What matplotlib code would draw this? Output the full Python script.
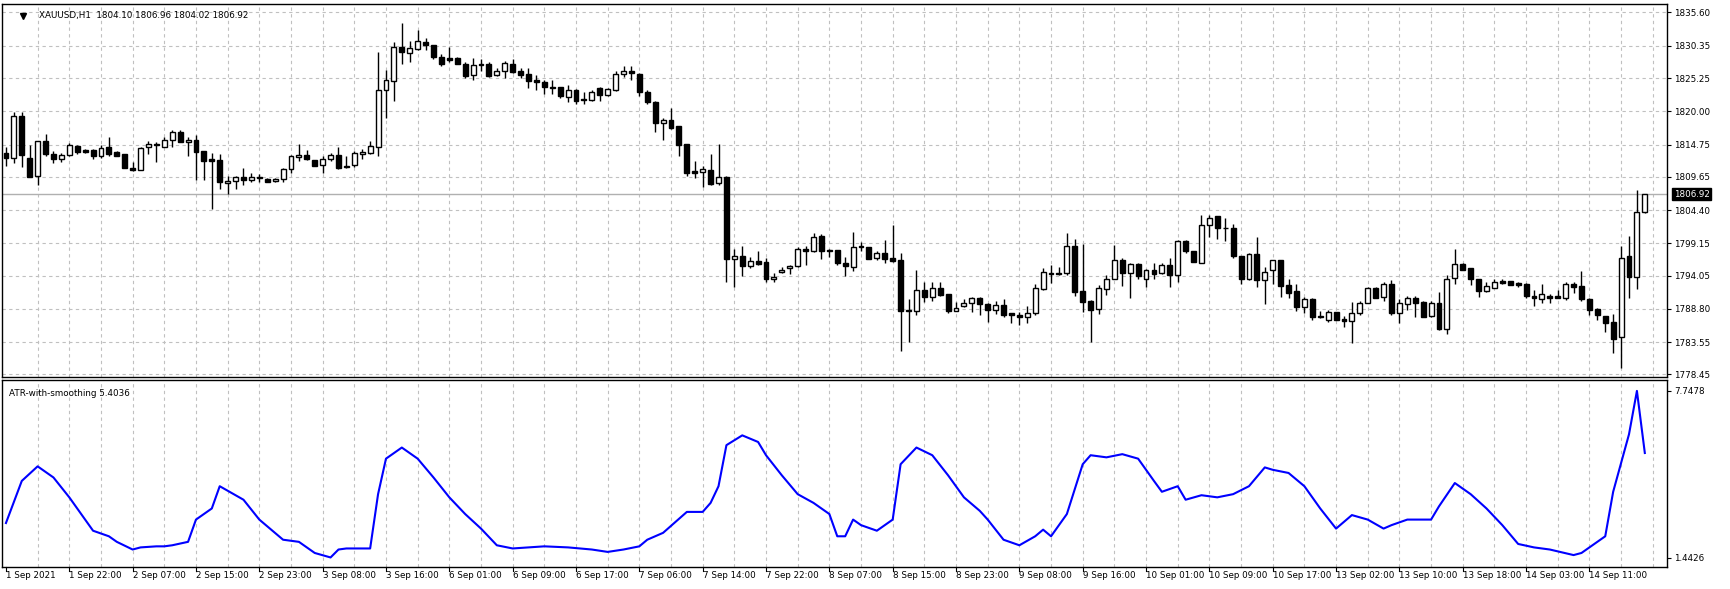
import matplotlib
matplotlib.use("Agg")
import matplotlib.pyplot as plt
import numpy as np

# XAUUSD H1 candles, 1 Sep 2021 .. 14 Sep 2021
OHLC = [
    (1813.4, 1814.4, 1811.3, 1812.7), (1812.7, 1819.9, 1811.8, 1819.3), (1819.3, 1819.9, 1811.2, 1813.1),
    (1812.7, 1814.7, 1809.6, 1809.7), (1809.8, 1815.3, 1808.4, 1815.3), (1815.3, 1816.4, 1812.9, 1813.2),
    (1813.3, 1813.8, 1811.8, 1812.5), (1812.4, 1813.4, 1812.0, 1813.1), (1813.1, 1815.0, 1813.0, 1814.7),
    (1814.5, 1814.7, 1813.3, 1813.6), (1813.9, 1814.1, 1813.4, 1813.6), (1813.9, 1814.1, 1812.5, 1812.9),
    (1812.9, 1814.7, 1812.7, 1814.2), (1814.3, 1816.0, 1812.9, 1813.3), (1813.6, 1813.8, 1812.9, 1813.0),
    (1813.2, 1813.3, 1811.0, 1811.0), (1811.1, 1812.0, 1810.5, 1810.8), (1810.8, 1814.4, 1810.7, 1814.2),
    (1814.3, 1815.3, 1813.3, 1814.9), (1814.9, 1815.1, 1812.0, 1814.7), (1814.4, 1816.0, 1814.3, 1815.5),
    (1815.5, 1817.1, 1814.4, 1816.8), (1816.8, 1817.1, 1815.1, 1815.1), (1815.2, 1816.0, 1812.9, 1815.5),
    (1815.5, 1816.3, 1809.2, 1813.6), (1813.7, 1813.7, 1809.1, 1812.2), (1812.4, 1813.4, 1804.6, 1812.2),
    (1812.3, 1813.3, 1807.8, 1808.8), (1808.7, 1809.8, 1806.9, 1809.0), (1809.0, 1809.8, 1807.8, 1809.6),
    (1809.6, 1811.0, 1808.3, 1809.1), (1809.1, 1810.3, 1808.9, 1809.6), (1809.6, 1810.1, 1808.9, 1809.4),
    (1809.3, 1809.5, 1808.8, 1808.9), (1809.0, 1809.4, 1808.9, 1809.3), (1809.3, 1811.0, 1808.8, 1810.9),
    (1810.9, 1813.1, 1810.3, 1812.9), (1812.8, 1814.8, 1812.2, 1813.1), (1813.1, 1813.9, 1812.3, 1812.4),
    (1812.3, 1812.3, 1811.3, 1811.4), (1811.5, 1812.9, 1810.2, 1812.5), (1812.4, 1813.4, 1812.2, 1813.1),
    (1813.1, 1814.4, 1810.9, 1811.1), (1811.4, 1813.0, 1811.0, 1811.2), (1811.5, 1813.7, 1811.2, 1813.4),
    (1813.3, 1814.0, 1812.5, 1813.5), (1813.4, 1815.3, 1813.3, 1814.5), (1814.4, 1829.4, 1812.9, 1823.4),
    (1823.4, 1826.5, 1819.0, 1824.9), (1824.8, 1831.0, 1821.7, 1830.1), (1830.1, 1834.0, 1827.4, 1829.3),
    (1829.2, 1831.1, 1827.8, 1830.0), (1829.9, 1832.8, 1829.6, 1831.1), (1831.0, 1831.5, 1829.7, 1830.4),
    (1830.5, 1830.5, 1828.2, 1828.5), (1828.5, 1829.0, 1827.1, 1827.4), (1828.4, 1830.2, 1827.8, 1828.1),
    (1828.4, 1828.5, 1827.4, 1827.4), (1827.5, 1827.8, 1825.3, 1825.6), (1825.7, 1828.4, 1825.0, 1827.3),
    (1827.5, 1828.2, 1826.4, 1827.3), (1827.5, 1827.8, 1825.4, 1825.6), (1825.7, 1826.9, 1825.6, 1826.3),
    (1826.3, 1827.9, 1825.3, 1827.6), (1827.5, 1828.2, 1826.1, 1826.2), (1826.4, 1826.9, 1825.3, 1825.8),
    (1825.9, 1826.9, 1823.7, 1824.8), (1824.9, 1825.8, 1823.4, 1824.7), (1824.7, 1824.9, 1822.7, 1823.8),
    (1823.8, 1824.9, 1822.8, 1823.7), (1823.8, 1823.8, 1822.1, 1822.4), (1822.3, 1824.1, 1821.5, 1823.4),
    (1823.4, 1823.5, 1821.2, 1821.7), (1822.0, 1823.1, 1821.2, 1821.8), (1821.8, 1823.4, 1821.6, 1823.1),
    (1823.6, 1823.8, 1821.7, 1822.5), (1822.5, 1823.6, 1822.4, 1823.5), (1823.3, 1826.3, 1823.2, 1825.9),
    (1825.9, 1827.2, 1825.4, 1826.3), (1826.3, 1827.1, 1824.9, 1826.0), (1825.9, 1826.0, 1822.4, 1823.0),
    (1823.1, 1823.4, 1821.1, 1821.4), (1821.5, 1821.7, 1816.8, 1818.2), (1818.2, 1818.9, 1815.5, 1818.6),
    (1818.6, 1820.5, 1817.2, 1817.4), (1817.6, 1817.6, 1813.0, 1814.7), (1814.8, 1814.8, 1809.8, 1810.3),
    (1810.5, 1812.1, 1809.4, 1810.3), (1810.4, 1811.3, 1808.1, 1810.9), (1810.8, 1813.3, 1808.3, 1808.5),
    (1808.7, 1814.9, 1808.3, 1809.6), (1809.7, 1809.8, 1793.0, 1796.7), (1796.7, 1798.2, 1792.2, 1797.2),
    (1797.2, 1798.8, 1794.0, 1795.6), (1795.6, 1797.0, 1795.2, 1796.3), (1796.3, 1797.9, 1795.8, 1795.9),
    (1796.2, 1796.8, 1793.0, 1793.5), (1793.5, 1794.4, 1793.1, 1793.9), (1794.7, 1795.4, 1794.5, 1795.0),
    (1795.2, 1795.8, 1794.3, 1795.5), (1795.6, 1798.5, 1795.4, 1798.2), (1798.2, 1798.7, 1795.8, 1798.0),
    (1798.0, 1800.8, 1797.8, 1800.2), (1800.3, 1800.6, 1796.7, 1797.9), (1798.1, 1798.3, 1797.0, 1797.9),
    (1798.1, 1798.1, 1795.8, 1796.0), (1796.0, 1797.0, 1794.0, 1795.5), (1795.4, 1801.0, 1794.8, 1798.6),
    (1798.7, 1799.4, 1798.0, 1798.5), (1798.5, 1798.6, 1796.7, 1796.7), (1796.8, 1798.0, 1796.5, 1797.6),
    (1797.6, 1799.7, 1796.1, 1796.7), (1796.8, 1802.1, 1796.2, 1796.4), (1796.5, 1797.6, 1782.2, 1788.5),
    (1788.6, 1790.4, 1783.6, 1788.5), (1788.4, 1794.9, 1787.8, 1791.8), (1791.8, 1793.0, 1789.9, 1790.7),
    (1790.7, 1793.0, 1790.0, 1792.1), (1792.1, 1793.1, 1790.9, 1791.0), (1791.2, 1791.2, 1788.2, 1788.5),
    (1788.4, 1789.9, 1788.4, 1789.0), (1789.3, 1790.4, 1789.1, 1789.7), (1789.7, 1790.7, 1788.3, 1790.6),
    (1790.5, 1790.7, 1787.9, 1789.5), (1789.6, 1789.8, 1786.7, 1788.7), (1788.7, 1790.0, 1788.0, 1789.4),
    (1789.4, 1790.4, 1787.6, 1787.9), (1788.1, 1788.2, 1786.6, 1787.8), (1787.8, 1788.3, 1786.3, 1787.5),
    (1787.5, 1789.2, 1786.6, 1788.1), (1788.1, 1792.7, 1787.9, 1792.1), (1792.0, 1795.2, 1791.8, 1794.6),
    (1794.4, 1795.7, 1792.9, 1794.3), (1794.4, 1795.4, 1794.2, 1794.3), (1794.4, 1800.8, 1794.2, 1798.7),
    (1798.7, 1799.9, 1790.8, 1791.5), (1791.6, 1799.1, 1788.3, 1789.9), (1790.1, 1790.2, 1783.6, 1788.7),
    (1788.8, 1792.5, 1788.0, 1792.1), (1792.0, 1794.1, 1791.0, 1793.5), (1793.5, 1798.9, 1793.5, 1796.6),
    (1796.6, 1796.8, 1792.4, 1794.5), (1794.5, 1796.1, 1790.5, 1795.9), (1795.9, 1796.1, 1793.6, 1794.0),
    (1793.6, 1795.1, 1792.2, 1794.9), (1795.0, 1796.1, 1793.6, 1794.3), (1794.4, 1796.0, 1794.3, 1795.7),
    (1795.7, 1796.8, 1792.3, 1794.2), (1794.2, 1799.7, 1793.0, 1799.5), (1799.5, 1799.7, 1797.6, 1797.9),
    (1797.9, 1797.9, 1796.2, 1796.2), (1796.1, 1803.7, 1796.0, 1802.1), (1802.0, 1803.7, 1800.1, 1803.1),
    (1803.4, 1803.5, 1799.9, 1801.5), (1801.6, 1803.1, 1799.6, 1801.5), (1801.6, 1802.2, 1796.9, 1797.1),
    (1797.2, 1797.2, 1792.8, 1793.6), (1793.5, 1797.6, 1793.3, 1797.5), (1797.5, 1800.2, 1792.3, 1793.3),
    (1793.3, 1795.4, 1789.5, 1794.6), (1794.9, 1796.6, 1792.8, 1796.5), (1796.5, 1796.5, 1790.7, 1792.4),
    (1792.5, 1793.6, 1790.6, 1791.3), (1791.6, 1792.8, 1788.5, 1789.1), (1789.1, 1790.7, 1788.1, 1790.4),
    (1790.4, 1790.5, 1787.0, 1787.6), (1787.7, 1788.4, 1787.4, 1787.6), (1787.1, 1788.6, 1786.8, 1788.3),
    (1788.3, 1788.3, 1787.0, 1787.0), (1787.2, 1787.7, 1785.9, 1786.9), (1786.9, 1789.9, 1783.4, 1788.1),
    (1788.1, 1790.1, 1787.8, 1789.7), (1789.8, 1792.2, 1789.7, 1792.1), (1792.1, 1792.2, 1790.5, 1790.6),
    (1790.7, 1793.1, 1790.0, 1792.7), (1792.7, 1793.4, 1787.9, 1788.1), (1788.2, 1790.4, 1786.6, 1789.7),
    (1789.6, 1790.9, 1788.7, 1790.6), (1790.6, 1790.8, 1787.6, 1789.8), (1789.9, 1790.1, 1787.5, 1787.6),
    (1787.7, 1790.1, 1787.6, 1789.7), (1789.7, 1791.5, 1785.4, 1785.7), (1785.7, 1794.1, 1784.8, 1793.6),
    (1793.7, 1798.3, 1792.7, 1795.9), (1795.9, 1796.1, 1794.9, 1794.9), (1795.2, 1795.3, 1792.6, 1793.6),
    (1793.6, 1793.6, 1790.7, 1791.7), (1791.7, 1793.0, 1791.4, 1792.4), (1792.1, 1793.5, 1792.1, 1793.0),
    (1793.2, 1793.5, 1792.7, 1792.9), (1793.2, 1793.2, 1792.5, 1792.6), (1792.9, 1793.1, 1792.3, 1792.6),
    (1792.8, 1792.9, 1790.5, 1790.8), (1790.9, 1791.8, 1789.2, 1790.5), (1790.4, 1792.7, 1789.8, 1791.2),
    (1790.9, 1791.2, 1789.8, 1790.6), (1790.8, 1791.8, 1790.5, 1790.6), (1790.6, 1793.1, 1790.2, 1792.8),
    (1792.8, 1793.1, 1791.3, 1792.2), (1792.4, 1794.8, 1790.0, 1790.3), (1790.4, 1790.5, 1787.9, 1788.6),
    (1788.8, 1788.9, 1787.0, 1787.8), (1787.7, 1787.7, 1785.1, 1786.5), (1786.7, 1788.0, 1781.9, 1784.1),
    (1784.3, 1798.8, 1779.4, 1796.9), (1797.1, 1800.3, 1790.6, 1793.9), (1793.9, 1807.6, 1791.9, 1804.1),
    (1804.10, 1806.96, 1804.02, 1806.92),
]

# ATR-with-smoothing readings (bar index, value)
ATR_IDX = [0, 2, 4, 6, 8, 10, 11, 13, 14, 16, 17, 19, 20, 21, 23, 24, 26, 27, 28, 30, 32, 35, 37, 39,
           41, 42, 43, 46, 47, 48, 50, 52, 54, 56, 58, 60, 62, 64, 66, 68, 71, 74, 76, 78, 80, 81, 83,
           86, 88, 89, 90, 91, 93, 95, 96, 98, 100, 102, 104, 105, 106, 107, 108, 110, 112, 113, 115,
           117, 119, 121, 123, 124, 126, 128, 130, 131, 132, 134, 136, 137, 139, 141, 143, 145, 146,
           148, 149, 151, 153, 155, 157, 159, 160, 162, 164, 166, 168, 170, 172, 174, 175, 177, 180,
           181, 183, 185, 187, 189, 191, 193, 195, 198, 199, 201, 202, 203, 205, 206, 207]
ATR_VAL = [2.76, 4.35, 4.90, 4.48, 3.73, 2.89, 2.47, 2.26, 2.05, 1.76, 1.84, 1.88, 1.88, 1.92, 2.05,
           2.89, 3.31, 4.15, 3.98, 3.64, 2.89, 2.13, 2.05, 1.63, 1.46, 1.76, 1.80, 1.80, 3.85, 5.19,
           5.61, 5.19, 4.48, 3.73, 3.10, 2.55, 1.92, 1.80, 1.84, 1.88, 1.84, 1.76, 1.67, 1.76, 1.88,
           2.13, 2.39, 3.18, 3.18, 3.52, 4.15, 5.70, 6.07, 5.82, 5.32, 4.56, 3.85, 3.52, 3.10, 2.26,
           2.26, 2.89, 2.68, 2.47, 2.89, 4.98, 5.61, 5.32, 4.56, 3.73, 3.22, 2.89, 2.13, 1.92, 2.26,
           2.51, 2.26, 3.10, 4.98, 5.32, 5.24, 5.36, 5.19, 4.35, 3.94, 4.15, 3.64, 3.81, 3.73, 3.85,
           4.15, 4.86, 4.77, 4.65, 4.15, 3.31, 2.55, 3.06, 2.89, 2.55, 2.68, 2.89, 2.89, 3.39, 4.27,
           3.85, 3.31, 2.68, 1.97, 1.84, 1.76, 1.55, 1.63, 2.05, 2.26, 3.94, 6.11, 7.7478, 5.4036]

DATE_LABELS = ["1 Sep 2021", "1 Sep 22:00", "2 Sep 07:00", "2 Sep 15:00", "2 Sep 23:00", "3 Sep 08:00",
               "3 Sep 16:00", "6 Sep 01:00", "6 Sep 09:00", "6 Sep 17:00", "7 Sep 06:00", "7 Sep 14:00",
               "7 Sep 22:00", "8 Sep 07:00", "8 Sep 15:00", "8 Sep 23:00", "9 Sep 08:00", "9 Sep 16:00",
               "10 Sep 01:00", "10 Sep 09:00", "10 Sep 17:00", "13 Sep 02:00", "13 Sep 10:00",
               "13 Sep 18:00", "14 Sep 03:00", "14 Sep 11:00"]
PRICE_TICKS = [1835.60, 1830.35, 1825.25, 1820.00, 1814.75, 1809.65, 1804.40, 1799.15, 1794.05,
               1788.80, 1783.55, 1778.45]
LAST_PRICE = 1806.92

W, H = 1731, 589
FS = 6.3
fig = plt.figure(figsize=(W / 100, H / 100), dpi=100, facecolor="white")
plt.rcParams["font.family"] = ["DejaVu Sans"]


def px_axes(x0, y0, x1, y1):
    return fig.add_axes([x0 / W, 1 - y1 / H, (x1 - x0) / W, (y1 - y0) / H])


ax = px_axes(2, 4, 1667, 377)
ax2 = px_axes(2, 380, 1667, 567)

o, h, l, c = (np.array(v) for v in zip(*OHLC))
x = np.arange(len(OHLC))
XL = (-0.5, 209.8)

grid_kw = dict(color="#c0c0c0", linestyle=(0, (3, 3)), linewidth=0.8)
for a in (ax, ax2):
    a.set_xlim(*XL)
    for gx in range(4, len(OHLC) + 2, 4):
        a.axvline(gx, zorder=0, **grid_kw)
    a.set_xticks([])
    for s in a.spines.values():
        s.set_color("black")
        s.set_linewidth(1.0)
    a.yaxis.tick_right()
    a.tick_params(axis="y", length=3, labelsize=FS, pad=2, colors="black")

# price pane
ax.set_ylim(1778.05, 1836.94)
ax.set_yticks(PRICE_TICKS)
ax.set_yticklabels([f"{v:.2f}" for v in PRICE_TICKS])
for v in PRICE_TICKS:
    ax.axhline(v, zorder=0, **grid_kw)
ax.axhline(LAST_PRICE, color="#b0b0b0", linewidth=1.0, zorder=1)

ax.vlines(x, l, h, color="black", linewidth=1.0, zorder=2)
up = c >= o
body_lo = np.minimum(o, c)
body_h = np.maximum(np.abs(c - o), 0.06)
ax.bar(x, body_h, bottom=body_lo, width=0.62, color=np.where(up, "white", "black"),
       edgecolor="black", linewidth=1.0, zorder=3)

ax.text(0.022, 0.968, "XAUUSD,H1  1804.10 1806.96 1804.02 1806.92", transform=ax.transAxes,
        fontsize=FS, va="center", ha="left")
ax.plot([0.0125], [0.968], marker="v", color="black", markersize=4, transform=ax.transAxes)
ax.text(1.004, (LAST_PRICE - 1778.05) / (1836.94 - 1778.05), f"{LAST_PRICE:.2f}",
        transform=ax.transAxes, fontsize=FS, color="white", va="center", ha="left",
        bbox=dict(boxstyle="square,pad=0.15", facecolor="black", edgecolor="black"))

# ATR pane
ax2.set_ylim(1.10, 8.16)
ax2.set_yticks([7.7478, 1.4426])
ax2.set_yticklabels(["7.7478", "1.4426"])
ax2.plot(ATR_IDX, ATR_VAL, color="#0000ff", linewidth=1.5, zorder=3)
ax2.text(0.004, 0.93, "ATR-with-smoothing 5.4036", transform=ax2.transAxes, fontsize=FS,
         va="center", ha="left")

# date labels along the bottom
xt = ax2.get_xaxis_transform()
for i, lab in enumerate(DATE_LABELS):
    bx = i * 8
    ax2.text(bx, -0.02, lab, transform=xt, fontsize=FS, ha="left", va="top")
    ax2.plot([bx, bx], [0, -0.02], color="black", linewidth=0.8, transform=xt, clip_on=False)

fig.savefig("out.png", dpi=100, facecolor="white")
